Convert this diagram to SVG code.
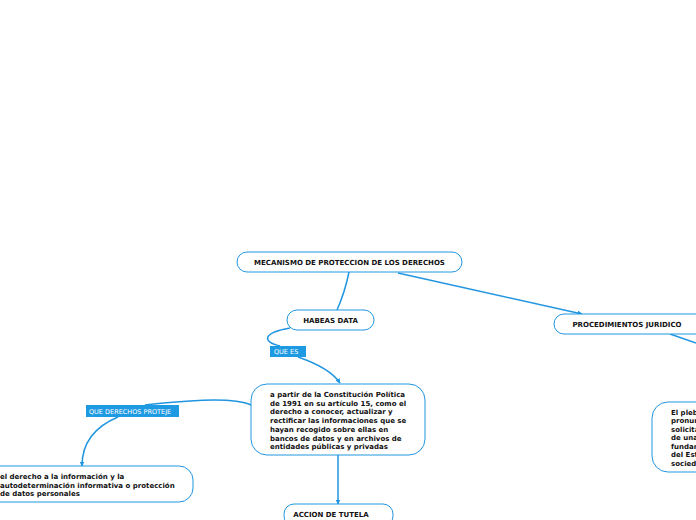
<svg xmlns="http://www.w3.org/2000/svg" width="696" height="520" viewBox="0 0 696 520">
<defs>
<marker id="arr" viewBox="0 0 10 10" refX="9" refY="5" markerWidth="5" markerHeight="5" orient="auto" markerUnits="userSpaceOnUse"><path d="M0,0 L10,5 L0,10 z" fill="#2196e0"/></marker>
<style>
.node{fill:#fff;stroke:#2196e0;stroke-width:1}
.t{font-family:"DejaVu Sans",Verdana,sans-serif;font-weight:bold;font-size:7px;fill:#111}
.c{stroke:#2196e0;stroke-width:1.5;fill:none}
.lab{fill:#1e9ae2}
.lt{font-family:"DejaVu Sans",Verdana,sans-serif;font-size:6.5px;fill:#fff}
</style>
</defs>
<rect width="696" height="520" fill="#fff"/>
<g id="connectors">
<path class="c" d="M349,272 Q345,292 337,310"/>
<path class="c" d="M398,273 L582,314" marker-end="url(#arr)"/>
<path class="c" d="M290,328 C262,333 262,342 280,346"/>
<path class="c" d="M298,357 Q330,368 340,383" marker-end="url(#arr)"/>
<path class="c" d="M251,405 Q235,398 190,401 Q160,403 145,405"/>
<path class="c" d="M118,417 Q82,432 82,466" marker-end="url(#arr)"/>
<path class="c" d="M338,455 L338,504" marker-end="url(#arr)"/>
<path class="c" d="M670,334 L696,343"/>
</g>
<g id="root"><rect class="node" x="237" y="252" width="225" height="20" rx="10"/><text class="t" x="349.5" y="264.5" text-anchor="middle">MECANISMO DE PROTECCION DE LOS DERECHOS</text></g>
<g id="habeas"><rect class="node" x="287" y="310" width="87" height="20" rx="10"/><text class="t" x="330.5" y="322.5" text-anchor="middle">HABEAS DATA</text></g>
<g id="proc"><rect class="node" x="554" y="314" width="160" height="20" rx="10"/><text class="t" x="627" y="326.5" text-anchor="middle">PROCEDIMIENTOS JURIDICO</text></g>
<g id="quees"><rect class="lab" x="270" y="346" width="36" height="11"/><text class="lt" x="274" y="354">QUE ES</text></g>
<g id="definicion"><rect class="node" x="251" y="384" width="174" height="71" rx="16"/>
<text class="t" x="270"><tspan x="270" y="397">a partir de la Constitución Política</tspan><tspan x="270" y="405.7">de 1991 en su artículo 15, como el</tspan><tspan x="270" y="414.4">derecho a conocer, actualizar y</tspan><tspan x="270" y="423.1">rectificar las informaciones que se</tspan><tspan x="270" y="431.8">hayan recogido sobre ellas en</tspan><tspan x="270" y="440.5">bancos de datos y en archivos de</tspan><tspan x="270" y="449.2">entidades públicas y privadas</tspan></text></g>
<g id="quederechos"><rect class="lab" x="86" y="405" width="93" height="12"/><text class="lt" x="89" y="413.5">QUE DERECHOS PROTEJE</text></g>
<g id="derechos"><rect class="node" x="-40" y="466" width="233" height="36" rx="14"/>
<text class="t"><tspan x="0" y="479">el derecho a la información y la</tspan><tspan x="0" y="487.5">autodeterminación informativa o protección</tspan><tspan x="0" y="496">de datos personales</tspan></text></g>
<g id="plebiscito"><rect class="node" x="652" y="402" width="120" height="70" rx="16"/>
<text class="t"><tspan x="671" y="414.5">El pleb</tspan><tspan x="671" y="423">pronun</tspan><tspan x="671" y="431.5">solicita</tspan><tspan x="671" y="440">de una</tspan><tspan x="671" y="448.5">fundam</tspan><tspan x="671" y="457">del Est</tspan><tspan x="671" y="465.5">socied</tspan></text></g>
<g id="tutela"><rect class="node" x="284" y="504" width="109" height="22" rx="10"/><text class="t" x="331" y="516.5" text-anchor="middle">ACCION DE TUTELA</text></g>
</svg>
